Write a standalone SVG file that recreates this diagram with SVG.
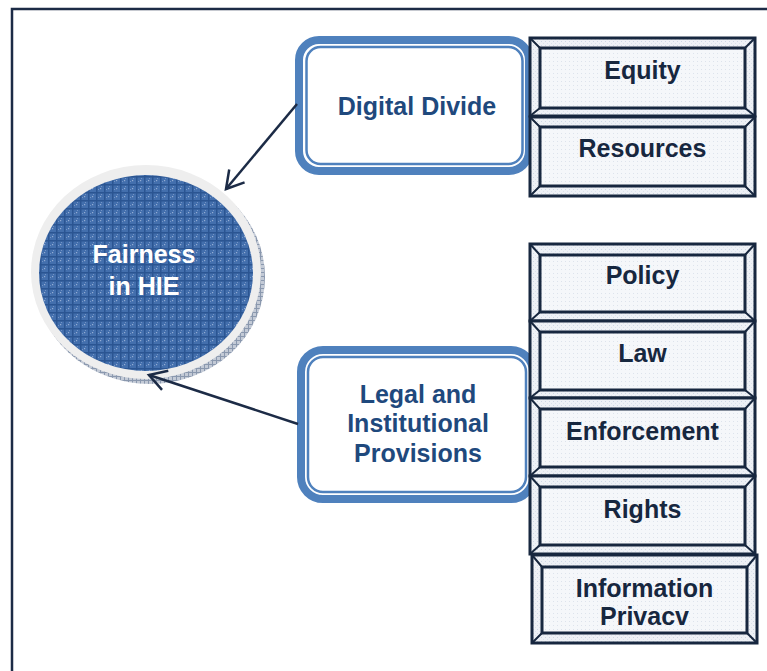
<svg xmlns="http://www.w3.org/2000/svg" width="767" height="671" viewBox="0 0 767 671">
<defs>
<style>
.frame{fill:none;stroke:#1c2b46;stroke-width:2.5}
.rb-outer{fill:#ffffff;stroke:#4f81bd;stroke-width:8}
.rb-inner{fill:none;stroke:#4f81bd;stroke-width:2.5}
.rb-text{font-family:"Liberation Sans",Arial,sans-serif;font-weight:bold;font-size:25px;fill:#1f497d;text-anchor:middle}
.bv-outer{fill:url(#dots);stroke:#17273f;stroke-width:3}
.bv-inner{fill:url(#dots2);stroke:#17273f;stroke-width:3}
.bv-diag{stroke:#17273f;stroke-width:2}
.bv-text{font-family:"Liberation Sans",Arial,sans-serif;font-weight:bold;font-size:25px;fill:#17273f;text-anchor:middle}
.c-text{font-family:"Liberation Sans",Arial,sans-serif;font-weight:bold;font-size:25px;fill:#ffffff;text-anchor:middle}
.conn{fill:none;stroke:#1c2b46;stroke-width:2.5;marker-end:url(#vhead)}
</style>
<pattern id="plaid" width="8" height="8" patternUnits="userSpaceOnUse">
<rect width="8" height="8" fill="#436fad"/>
<rect x="0" y="0" width="8" height="1.5" fill="#2b5592"/>
<rect x="0" y="0" width="1.5" height="8" fill="#2b5592"/>
<rect x="4" y="4" width="1.2" height="1.2" fill="#93acd3"/>
<rect x="2" y="5" width="1" height="1" fill="#7394c6"/>
<rect x="5" y="2" width="1" height="1" fill="#7394c6"/>
</pattern>
<pattern id="shadow" width="4" height="4" patternUnits="userSpaceOnUse">
<rect width="4" height="4" fill="#c3cad6"/>
<rect x="0" y="0" width="4" height="1" fill="#8a98ae"/>
<rect x="0" y="0" width="1" height="4" fill="#8a98ae"/>
</pattern>
<pattern id="dots" width="4" height="4" patternUnits="userSpaceOnUse">
<rect width="4" height="4" fill="#eef1f6"/>
<rect x="1" y="1" width="1" height="1" fill="#cdd6e4"/>
<rect x="3" y="3" width="1" height="1" fill="#dbe2ec"/>
</pattern>
<pattern id="dots2" width="4" height="4" patternUnits="userSpaceOnUse">
<rect width="4" height="4" fill="#f5f7fa"/>
<rect x="1" y="1" width="1" height="1" fill="#dde3ec"/>
</pattern>
<marker id="vhead" viewBox="-20 -12 22 24" refX="0" refY="0" markerWidth="22" markerHeight="24" markerUnits="userSpaceOnUse" orient="auto" overflow="visible">
<path d="M-17,-10 L0,0 L-17,10" fill="none" stroke="#1c2b46" stroke-width="2.5"/>
</marker>
</defs>

<rect class="frame" x="12" y="9" width="800" height="700"/>

<g id="fairness">
<ellipse cx="150" cy="277" rx="115" ry="107" fill="url(#shadow)"/>
<ellipse cx="146" cy="272" rx="115" ry="107" fill="#eeeeee"/>
<ellipse cx="146" cy="273" rx="107" ry="98" fill="url(#plaid)"/>
<text class="c-text" x="144" y="263">Fairness</text>
<text class="c-text" x="144" y="295">in HIE</text>
</g>

<g id="digital-divide">
<rect class="rb-outer" x="299" y="40" width="230" height="131" rx="20"/>
<rect class="rb-inner" x="306.5" y="47" width="216" height="117" rx="14"/>
<text class="rb-text" x="417" y="115">Digital Divide</text>
</g>

<g id="legal">
<rect class="rb-outer" x="301" y="350" width="232" height="149" rx="22"/>
<rect class="rb-inner" x="308" y="357" width="218" height="135" rx="15"/>
<text class="rb-text" x="418" y="403">Legal and</text>
<text class="rb-text" x="418" y="432">Institutional</text>
<text class="rb-text" x="418" y="462">Provisions</text>
</g>

<g id="equity">
<rect class="bv-outer" x="530" y="38" width="225" height="78"/>
<path class="bv-diag" d="M530,38 L540,48 M755,38 L745,48 M530,116 L540,108 M755,116 L745,108"/>
<rect class="bv-inner" x="540" y="48" width="205" height="60"/>
<text class="bv-text" x="642.5" y="79">Equity</text>
</g>

<g id="resources">
<rect class="bv-outer" x="530" y="117" width="225" height="79"/>
<path class="bv-diag" d="M530,117 L540,127 M755,117 L745,127 M530,196 L540,186 M755,196 L745,186"/>
<rect class="bv-inner" x="540" y="127" width="205" height="59"/>
<text class="bv-text" x="642.5" y="157">Resources</text>
</g>

<g id="policy">
<rect class="bv-outer" x="530" y="244" width="225" height="77"/>
<path class="bv-diag" d="M530,244 L540,255 M755,244 L745,255 M530,321 L540,312 M755,321 L745,312"/>
<rect class="bv-inner" x="540" y="255" width="205" height="57"/>
<text class="bv-text" x="642.5" y="284">Policy</text>
</g>

<g id="law">
<rect class="bv-outer" x="530" y="321" width="225" height="77"/>
<path class="bv-diag" d="M530,321 L540,332 M755,321 L745,332 M530,398 L540,390 M755,398 L745,390"/>
<rect class="bv-inner" x="540" y="332" width="205" height="58"/>
<text class="bv-text" x="642.5" y="362">Law</text>
</g>

<g id="enforcement">
<rect class="bv-outer" x="530" y="398" width="225" height="78"/>
<path class="bv-diag" d="M530,398 L540,409 M755,398 L745,409 M530,476 L540,467 M755,476 L745,467"/>
<rect class="bv-inner" x="540" y="409" width="205" height="58"/>
<text class="bv-text" x="642.5" y="440">Enforcement</text>
</g>

<g id="rights">
<rect class="bv-outer" x="530" y="476" width="225" height="78"/>
<path class="bv-diag" d="M530,476 L540,487 M755,476 L745,487 M530,554 L540,545 M755,554 L745,545"/>
<rect class="bv-inner" x="540" y="487" width="205" height="58"/>
<text class="bv-text" x="642.5" y="518">Rights</text>
</g>

<g id="information-privacy">
<rect class="bv-outer" x="532" y="555" width="225" height="88"/>
<path class="bv-diag" d="M532,555 L542,567 M757,555 L747,567 M532,643 L542,633 M757,643 L747,633"/>
<rect class="bv-inner" x="542" y="567" width="205" height="66"/>
<text class="bv-text" x="644.5" y="597">Information</text>
<text class="bv-text" x="644.5" y="625">Privacv</text>
</g>

<g id="connectors">
<line class="conn" x1="297" y1="104" x2="226" y2="189"/>
<line class="conn" x1="298" y1="424" x2="149" y2="375"/>
</g>
</svg>
